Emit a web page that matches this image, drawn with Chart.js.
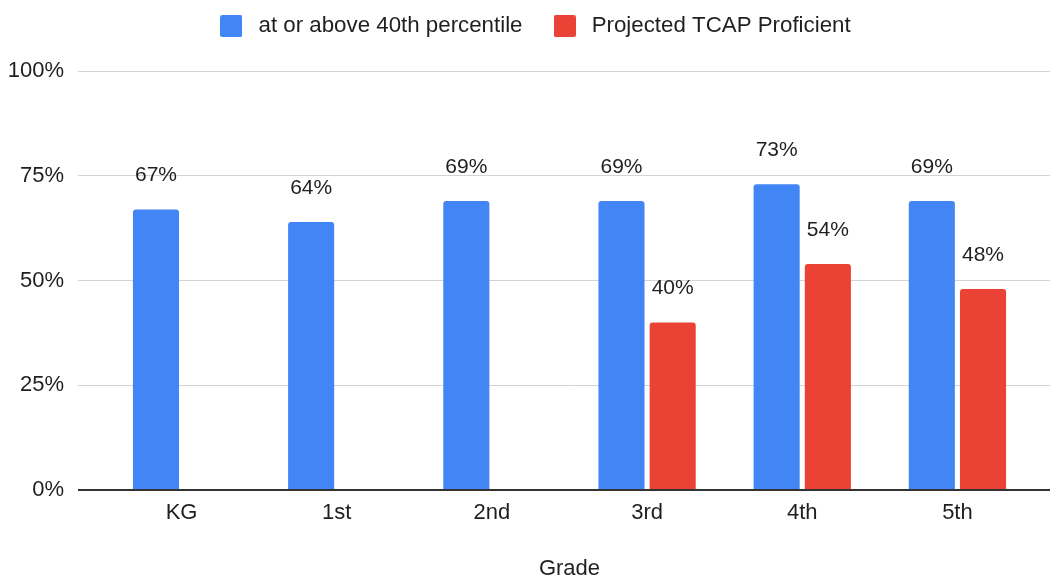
<!DOCTYPE html>
<html>
<head>
<meta charset="utf-8">
<script src="https://cdn.jsdelivr.net/npm/chart.js@4.4.0/dist/chart.umd.min.js"></script>
<style>
html, body { margin: 0; padding: 0; background: #fff; }
#wrap { width: 1050px; height: 576px; }
</style>
</head>
<body>
<div id="wrap"><canvas id="myChart"></canvas></div>
<script>
const grades = ['KG', '1st', '2nd', '3rd', '4th', '5th'];
const label_A = 'at or above 40th percentile';
const value_A = [67, 64, 69, 69, 73, 69];
const label_B = 'Projected TCAP Proficient';
const value_B = [null, null, null, 40, 54, 48];
const yTicks = [0, 25, 50, 75, 100];

const color_A = '#4285F4';
const color_B = '#EA4335';
const FONT = 'Arial, "Liberation Sans", Helvetica, sans-serif';

// small rounded square used as the legend marker
function legendSwatch(color) {
    const c = document.createElement('canvas');
    c.width = 22;
    c.height = 22;
    const g = c.getContext('2d');
    g.fillStyle = color;
    g.beginPath();
    g.roundRect(0, 0, 22, 22, 2);
    g.fill();
    return c;
}
const swatches = [legendSwatch(color_A), legendSwatch(color_B)];

// values written above each bar
const valueLabels = {
    id: 'valueLabels',
    afterDatasetsDraw(chart) {
        const ctx = chart.ctx;
        ctx.save();
        ctx.font = '21px ' + FONT;
        ctx.fillStyle = '#1f1f1f';
        ctx.textAlign = 'center';
        ctx.textBaseline = 'middle';
        chart.data.datasets.forEach((ds, i) => {
            chart.getDatasetMeta(i).data.forEach((bar, j) => {
                const v = ds.data[j];
                if (v == null) return;
                ctx.fillText(v + '%', bar.x, bar.y - 34);
            });
        });
        ctx.restore();
    }
};

const gridColor = c => c.tick && c.tick.value === 0 ? '#333' : '#d3d3d3';
const gridWidth = c => c.tick && c.tick.value === 0 ? 2 : 1;
const setTicks = s => { s.ticks = yTicks.map(v => ({ value: v })); };

const myChart = new Chart(document.getElementById('myChart'), {
    type: 'bar',
    data: {
        labels: grades,
        datasets: [{
            label: label_A,
            data: value_A,
            backgroundColor: color_A,
            borderRadius: 3,
            borderSkipped: 'start',
            categoryPercentage: 0.66,
            barPercentage: 0.9
        }, {
            label: label_B,
            data: value_B,
            backgroundColor: color_B,
            borderRadius: 3,
            borderSkipped: 'start',
            categoryPercentage: 0.66,
            barPercentage: 0.9
        }]
    },
    options: {
        responsive: true,
        maintainAspectRatio: false,
        animation: false,
        // right padding < 0 moves the centred legend a little right
        layout: { padding: { top: -11, left: 0, right: -16, bottom: 0 } },
        plugins: {
            tooltip: { enabled: false },
            legend: {
                position: 'top',
                labels: {
                    font: { size: 22.3, family: FONT },
                    color: '#1f1f1f',
                    usePointStyle: true,
                    pointStyleWidth: 32,
                    padding: 26,
                    generateLabels: chart => {
                        const items = Chart.defaults.plugins.legend.labels.generateLabels(chart);
                        items.forEach((it, i) => { it.pointStyle = swatches[i]; });
                        return items;
                    }
                }
            }
        },
        scales: {
            x: {
                z: 1,
                grid: { display: false, drawTicks: false },
                border: { display: true, color: '#333', width: 2 },
                ticks: { font: { size: 22, family: FONT }, color: '#1f1f1f', padding: 10 },
                title: {
                    display: true,
                    text: 'Grade',
                    font: { size: 22, family: FONT, lineHeight: 1 },
                    color: '#1f1f1f',
                    padding: { top: 0, bottom: -4 }
                },
                afterFit: s => { s.height = 86; }
            },
            // empty top axis, only keeps space between legend and plot
            xTop: {
                type: 'category',
                position: 'top',
                grid: { display: false, drawTicks: false },
                border: { display: false },
                ticks: { display: false },
                afterFit: s => { s.height = 24; }
            },
            y: {
                min: 0,
                max: 100,
                afterBuildTicks: setTicks,
                ticks: {
                    callback: v => v + '%',
                    font: { size: 22, family: FONT },
                    color: '#1f1f1f',
                    padding: 14
                },
                grid: { color: gridColor, lineWidth: gridWidth, tickLength: 26 },
                border: { display: false },
                afterFit: s => { s.width = 104; }
            },
            y2: {
                position: 'right',
                min: 0,
                max: 100,
                afterBuildTicks: setTicks,
                ticks: { display: false },
                grid: { drawOnChartArea: false, color: gridColor, lineWidth: gridWidth, tickLength: 15 },
                border: { display: false },
                afterFit: s => { s.width = 31; }
            }
        }
    },
    plugins: [valueLabels]
});
</script>
</body>
</html>
